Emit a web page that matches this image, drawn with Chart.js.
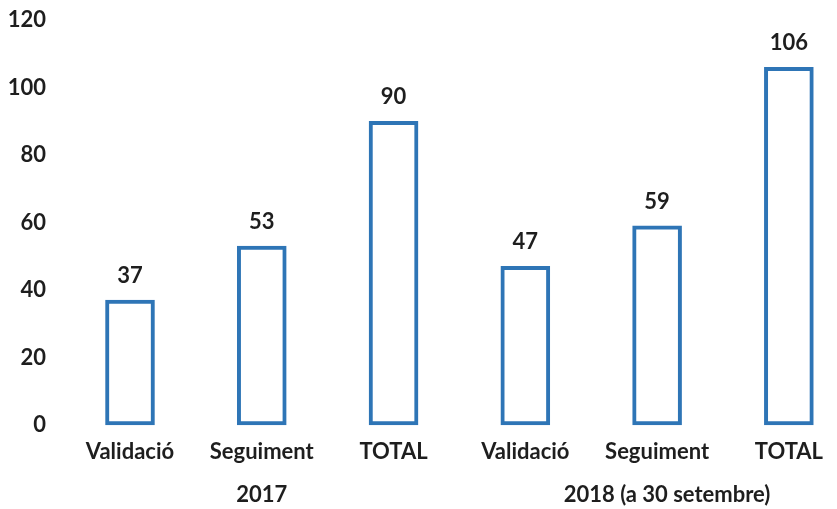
<!DOCTYPE html>
<html><head><meta charset="utf-8">
<style>html,body{margin:0;padding:0;background:#fff;overflow:hidden}#wrap{width:837px;height:509px;position:relative}</style>
<script src="https://cdn.jsdelivr.net/npm/chart.js@4.4.1/dist/chart.umd.min.js"></script>
</head><body><div id="wrap"><canvas id="c"></canvas></div>
<script>
const categories = ['Validació','Seguiment','TOTAL','Validació','Seguiment','TOTAL'];
const values = [37, 53, 90, 47, 59, 106];
const groupLabels = ['2017', '2018 (a 30 setembre)'];
const groupSizes = [3, 3];
const yMin = 0, yMax = 120, yStep = 20;

const FONT = "Lato, 'Open Sans', sans-serif";
const FSIZE = 22;
const TEXT = '#1e1e1e';
const BLUE = '#2E75B6';

const labelPlugin = {
  id: 'labels',
  afterDatasetsDraw(chart) {
    const ctx = chart.ctx;
    ctx.save();
    ctx.font = "bold " + FSIZE + "px " + FONT;
    ctx.fillStyle = TEXT;
    ctx.textAlign = 'center';
    ctx.textBaseline = 'middle';
    const meta = chart.getDatasetMeta(0);
    meta.data.forEach((bar, i) => {
      ctx.fillText(String(values[i]), bar.x, bar.y - 24);
    });
    const xs = chart.scales.x;
    let start = 0;
    groupLabels.forEach((g, gi) => {
      const end = start + groupSizes[gi] - 1;
      const cx = (xs.getPixelForValue(start) + xs.getPixelForValue(end)) / 2 + (gi === 1 ? 10 : 0);
      ctx.fillText(g, cx, 495);
      start = end + 1;
    });
    ctx.restore();
  }
};

new Chart(document.getElementById('c'), {
  type: 'bar',
  data: {
    labels: categories,
    datasets: [{
      data: values,
      backgroundColor: '#ffffff',
      borderColor: BLUE,
      borderWidth: 4,
      borderSkipped: false,
      barThickness: 49,
      clip: false
    }]
  },
  options: {
    responsive: true,
    maintainAspectRatio: false,
    animation: false,
    layout: { padding: { top: 20, right: 48, bottom: 0, left: 0 } },
    plugins: { legend: { display: false }, tooltip: { enabled: false } },
    scales: {
      x: {
        offset: false,
        grid: { display: false, drawTicks: false },
        border: { display: false },
        ticks: { color: TEXT, font: { family: FONT, size: FSIZE, weight: 'bold' }, padding: 14, maxRotation: 0, autoSkip: false },
        afterFit(s) { s.height = 84; }
      },
      y: {
        min: yMin, max: yMax,
        grid: { display: false, drawTicks: false },
        border: { display: false },
        ticks: { stepSize: yStep, color: TEXT, font: { family: FONT, size: FSIZE, weight: 'bold' }, padding: 84 },
        afterFit(s) { s.width = 130; s.paddingTop = 10; s.paddingBottom = 10; }
      }
    }
  },
  plugins: [labelPlugin]
});
</script></body></html>
